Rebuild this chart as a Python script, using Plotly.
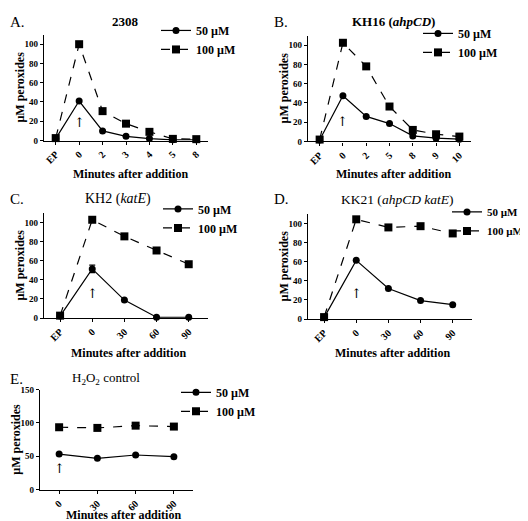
import plotly.graph_objects as go

W, H = 528, 521
FONT = "Liberation Serif, Times New Roman, serif"

# ---------------- data ----------------
cats_A = ["EP", "0", "2", "3", "4", "5", "8"]
a_50 = [2, 41, 10, 4.3, 2, 0.7, 0.7]
a_100 = [2.5, 100, 30.5, 17.5, 9, 1.7, 1.4]

cats_B = ["EP", "0", "2", "5", "8", "9", "10"]
b_50 = [1.5, 47.5, 26, 18.6, 5.8, 3.4, 2.4]
b_100 = [2, 102.5, 78, 36.3, 12, 7.5, 5.1]

cats_C = ["EP", "0", "30", "60", "90"]
c_50 = [2, 51.5, 18.8, 0.8, 0.8]
c_50_err = [0, 4, 0, 0, 0]
c_100 = [2.5, 103, 85.6, 70.8, 56.4]

cats_D = ["EP", "0", "30", "60", "90"]
d_50 = [1.5, 61.5, 32, 19.3, 15]
d_100 = [2, 104.5, 96, 97.3, 89.7]

cats_E = ["0", "30", "60", "90"]
e_50 = [53.4, 47, 52, 49.5]
e_100 = [93.6, 92.6, 96, 94.6]

series_names = ["50 \u00b5M", "100 \u00b5M"]

# ---------------- layout helpers ----------------
def xf(px):
    return px / W

def yf(py):
    return 1 - py / H

panels = [
    dict(key="", cats=cats_A, s50=a_50, s100=a_100, err=None,
         xd=(36, 200), yd=(22, 130), yr=[0, 110], dt=20, xr=[-0.5, 6.5],
         title="<b>2308</b>", tsize=13, tx=117, ty=9, lab="A.", lx=0, ly=9,
         leg=(148, 3), lsize=12, arrow_y=19, xt=(122, 164)),
    dict(key="2", cats=cats_B, s50=b_50, s100=b_100, err=None,
         xd=(300, 463), yd=(23, 131), yr=[0, 110], dt=20, xr=[-0.5, 6.5],
         title="<b>KH16 (<i>ahpCD</i>)</b>", tsize=13, tx=385, ty=9, lab="B.", lx=264, ly=9,
         leg=(410, 6), lsize=12, arrow_y=21, xt=(385, 164)),
    dict(key="3", cats=cats_C, s50=c_50, s100=c_100, err=c_50_err,
         xd=(36, 200), yd=(204, 311), yr=[0, 110], dt=20, xr=[-0.5, 4.6],
         title="KH2 (<i>katE</i>)", tsize=14, tx=110, ty=190, lab="C.", lx=0, ly=190,
         leg=(150, 185), lsize=12, arrow_y=26, xt=(120, 347)),
    dict(key="4", cats=cats_D, s50=d_50, s100=d_100, err=None,
         xd=(300, 464), yd=(205, 312), yr=[0, 110], dt=20, xr=[-0.5, 4.6],
         title="KK21 (<i>ahpCD katE</i>)", tsize=13.5, tx=389, ty=190, lab="D.", lx=264, ly=190,
         leg=(439, 188), lsize=11, arrow_y=27, xt=(384, 347)),
    dict(key="5", cats=cats_E, s50=e_50, s100=e_100, err=None,
         xd=(32, 185), yd=(384, 486), yr=[0, 150], dt=50, xr=[-0.5, 3.5],
         title="H<sub>2</sub>O<sub>2</sub> control", tsize=13, tx=98, ty=373, lab="E.", lx=0, ly=373,
         leg=(168, 372), lsize=12, arrow_y=31, xt=(115, 512)),
]

fig = go.Figure()
annotations = []
layout = dict(
    width=W, height=H,
    margin=dict(l=0, r=0, t=0, b=0),
    paper_bgcolor="white", plot_bgcolor="white",
    font=dict(family=FONT, color="black"),
    showlegend=True,
)

for i, p in enumerate(panels):
    k = p["key"]
    xa = "x" + k
    ya = "y" + k
    legname = "legend" + k
    for j, (vals, name) in enumerate(zip([p["s50"], p["s100"]], series_names)):
        tr = dict(
            x=p["cats"], y=vals, name=name, mode="lines+markers",
            xaxis=xa, yaxis=ya, legend=legname, cliponaxis=False,
            line=dict(color="black", width=1.2, dash="solid" if j == 0 else "dash"),
            marker=dict(symbol="circle" if j == 0 else "square",
                        size=7 if j == 0 else 8, color="black"),
        )
        if j == 0 and p["err"] is not None:
            tr["error_y"] = dict(type="data", array=p["err"], visible=True,
                                 color="black", thickness=1.2, width=3)
        fig.add_trace(go.Scatter(**tr))

    layout["xaxis" + k] = dict(
        domain=[xf(p["xd"][0]), xf(p["xd"][1])], anchor=ya,
        type="category", categoryorder="array", categoryarray=p["cats"],
        range=p["xr"], showgrid=False, zeroline=False,
        showline=True, linecolor="black", linewidth=1.3,
        ticks="outside", ticklen=3, tickwidth=1, tickcolor="black",
        tickangle=-45, tickfont=dict(family=FONT, size=10, color="black", weight="bold"),
    )
    layout["yaxis" + k] = dict(
        domain=[yf(p["yd"][1]), yf(p["yd"][0])], anchor=xa,
        range=p["yr"], dtick=p["dt"], showgrid=False, zeroline=False,
        showline=True, linecolor="black", linewidth=1.3,
        ticks="outside", ticklen=3, tickwidth=1, tickcolor="black",
        tickfont=dict(family=FONT, size=9, color="black", weight="bold"),
    )
    layout[legname] = dict(
        x=xf(p["leg"][0]), y=yf(p["leg"][1]), xanchor="left", yanchor="top",
        bgcolor="rgba(0,0,0,0)", borderwidth=0, itemwidth=30,
        font=dict(family=FONT, size=p["lsize"], color="black", weight="bold"),
        tracegroupgap=0, itemclick=False, itemdoubleclick=False,
    )
    # panel title
    annotations.append(dict(text=p["title"], x=xf(p["tx"]), y=yf(p["ty"]),
                            xref="paper", yref="paper", showarrow=False,
                            xanchor="center", yanchor="middle",
                            font=dict(family=FONT, size=p["tsize"], color="black")))
    # panel letter
    annotations.append(dict(text=p["lab"], x=xf(p["lx"]), y=yf(p["ly"]),
                            xref="paper", yref="paper", showarrow=False,
                            xanchor="left", yanchor="middle",
                            font=dict(family=FONT, size=15, color="black")))
    # y axis title
    ymid = (p["yd"][0] + p["yd"][1]) / 2
    annotations.append(dict(text="<b>\u00b5M peroxides</b>", textangle=-90,
                            x=xf(p["xd"][0] - 24), y=yf(ymid),
                            xref="paper", yref="paper", showarrow=False,
                            xanchor="center", yanchor="middle",
                            font=dict(family=FONT, size=12, color="black")))
    # x axis title
    annotations.append(dict(text="<b>Minutes after addition</b>",
                            x=xf(p["xt"][0]), y=yf(p["xt"][1]),
                            xref="paper", yref="paper", showarrow=False,
                            xanchor="center", yanchor="middle",
                            font=dict(family=FONT, size=12, color="black")))
    # addition arrow (at the "0" category)
    zero_idx = p["cats"].index("0")
    annotations.append(dict(text="\u2191", x=zero_idx, y=p["arrow_y"], xref=xa, yref=ya,
                            showarrow=False, xanchor="center", yanchor="middle",
                            font=dict(family="DejaVu Serif", size=13, color="black")))

layout["annotations"] = annotations
fig.update_layout(**layout)
fig.write_html("out.html")
